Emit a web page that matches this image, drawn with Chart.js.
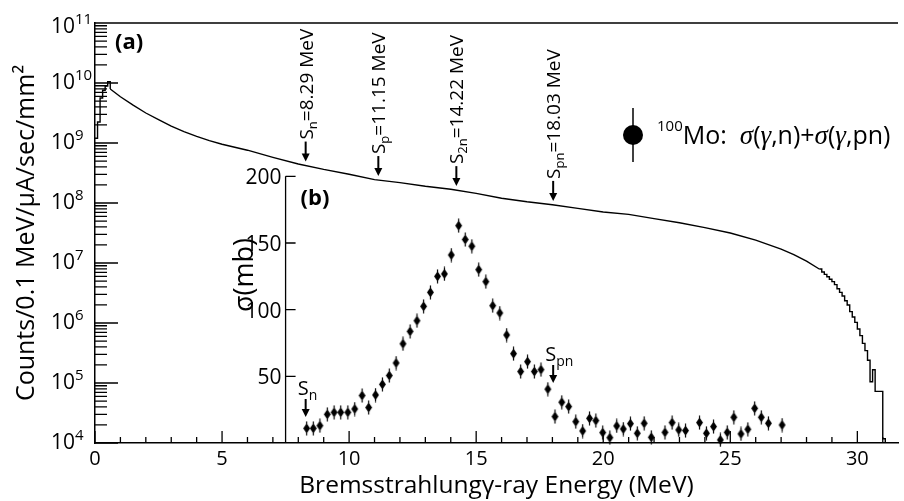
<!DOCTYPE html>
<html>
<head>
<meta charset="utf-8">
<script src="https://cdn.jsdelivr.net/npm/chart.js@4.4.0/dist/chart.umd.min.js"></script>
<style>
  html, body { margin: 0; padding: 0; background: #fff; }
  #wrap { width: 904px; height: 501px; }
</style>
</head>
<body>
<div id="wrap"><canvas id="graf" width="904" height="501"></canvas></div>
<script>
// (a) bremsstrahlung spectrum, log10 of counts/0.1 MeV/uA/sec/mm2
// rising edge, 0.1 MeV bins (low edges)
const headE   = [0.0, 0.1, 0.2, 0.3, 0.4, 0.5, 0.6];
const headLog = [9.08, 9.35, 9.75, 9.88, 9.95, 10.02, 9.90];

// smooth middle part
const fluxE = [0.6, 1.0, 1.5, 2.0, 2.5, 3.0, 3.5, 4.0, 4.5, 5.0, 6.0, 7.0, 8.0, 9.0, 10.0,
  11.0, 12.0, 13.0, 14.0, 15.0, 16.0, 17.0, 18.0, 19.0, 20.0, 21.0, 22.0, 23.0, 24.0,
  25.0, 26.0, 27.0, 27.5, 28.0, 28.5];
const fluxLog = [9.90, 9.77, 9.63, 9.50, 9.39, 9.28, 9.19, 9.11, 9.04, 8.98, 8.88, 8.76, 8.65, 8.56, 8.48,
  8.39, 8.34, 8.28, 8.23, 8.16, 8.08, 8.02, 7.97, 7.91, 7.85, 7.81, 7.74, 7.67, 7.59,
  7.50, 7.38, 7.23, 7.14, 7.03, 6.90];

// end point tail, 0.1 MeV bins (low edges), last entry closes the histogram
const tailE = [28.5, 28.6, 28.7, 28.8, 28.9, 29.0, 29.1, 29.2, 29.3, 29.4, 29.5, 29.6, 29.7, 29.8,
  29.9, 30.0, 30.1, 30.2, 30.3, 30.4, 30.5, 30.6, 30.7, 30.8, 30.9, 31.0, 31.1];
const tailLog = [6.90, 6.85, 6.81, 6.77, 6.73, 6.69, 6.64, 6.57, 6.51, 6.45, 6.37, 6.30, 6.19, 6.10,
  6.01, 5.90, 5.79, 5.66, 5.54, 5.38, 5.02, 5.22, 4.86, 4.86, 4.86, 4.07, 3.00];

// (b) 100Mo: sigma(g,n)+sigma(g,pn) in mb
const sigmaE = [8.33, 8.59, 8.85, 9.14, 9.41, 9.67, 9.95, 10.22, 10.51, 10.77, 11.04, 11.31, 11.58,
  11.85, 12.12, 12.40, 12.67, 12.93, 13.20, 13.48, 13.75, 14.02, 14.31, 14.57, 14.83, 15.10,
  15.38, 15.65, 15.93, 16.20, 16.47, 16.75, 17.02, 17.29, 17.55, 17.82, 18.10, 18.37, 18.64,
  18.92, 19.19, 19.46, 19.71, 19.98, 20.26, 20.53, 20.79, 21.07, 21.34, 21.61, 21.89, 22.43,
  22.71, 22.97, 23.24, 23.79, 24.06, 24.34, 24.61, 24.88, 25.14, 25.42, 25.69, 25.96, 26.22,
  26.50, 27.04];
const sigmaMb = [11, 11, 13, 21.5, 23, 23, 23, 25.5, 35.6, 26.6, 36, 44, 50.6,
  60, 74.4, 83.7, 91.7, 102.5, 113, 125, 126.8, 141, 163, 152.6, 147.6, 130,
  121, 103, 97.5, 81, 67, 53.6, 61, 53.6, 55, 40.4, 19.8, 30.6, 27.3,
  16, 9, 18.5, 16.8, 7.8, 4, 12.8, 10.5, 14.5, 7.3, 14.8, 4.3, 8,
  15.3, 9.8, 9.3, 15.3, 7.3, 12.3, 2.3, 8, 19.3, 6.8, 10.3, 26, 19.3,
  14.8, 13.5];

// ticks
const xTicks = [0, 5, 10, 15, 20, 25, 30];
const yDecades = [4, 5, 6, 7, 8, 9, 10, 11];
const insetTicks = [50, 100, 150, 200];
const insetLeftE = 7.5;

// separation energies
const thresholds = [
  { sub: "n",  e: 8.29 },
  { sub: "p",  e: 11.15 },
  { sub: "2n", e: 14.22 },
  { sub: "pn", e: 18.03 }
];
const insetMarks = [
  { sub: "n",  e: 8.29,  tipMb: 19.5 },
  { sub: "pn", e: 18.03, tipMb: 45 }
];

const FONT = "'Open Sans', sans-serif";

function toPoints(xs, logs) {
  return xs.map((e, i) => ({ x: e, y: Math.pow(10, logs[i]) }));
}

function fluxAt(e) {
  for (let i = 1; i < fluxE.length; i++) {
    if (e <= fluxE[i]) {
      const f = (e - fluxE[i - 1]) / (fluxE[i] - fluxE[i - 1]);
      return Math.pow(10, fluxLog[i - 1] + f * (fluxLog[i] - fluxLog[i - 1]));
    }
  }
  return Math.pow(10, fluxLog[fluxLog.length - 1]);
}

// diamond marker with short error bar
function diamondMarker() {
  const c = document.createElement("canvas");
  c.width = 9; c.height = 15;
  const g = c.getContext("2d");
  g.strokeStyle = "#000"; g.fillStyle = "#000"; g.lineWidth = 1.2;
  g.beginPath(); g.moveTo(4.5, 0.5); g.lineTo(4.5, 14.5); g.stroke();
  g.beginPath();
  g.moveTo(4.5, 2.5); g.lineTo(8, 7.5); g.lineTo(4.5, 12.5); g.lineTo(1, 7.5);
  g.closePath(); g.fill();
  return c;
}

function arrowDown(ctx, px, top, tip) {
  ctx.beginPath();
  ctx.lineWidth = 2;
  ctx.moveTo(px, top); ctx.lineTo(px, tip - 6);
  ctx.stroke();
  ctx.beginPath();
  ctx.moveTo(px - 4, tip - 8); ctx.lineTo(px + 4, tip - 8); ctx.lineTo(px, tip);
  ctx.closePath(); ctx.fill();
}

const decorations = {
  id: "decorations",
  afterDraw(chart) {
    const { ctx, chartArea: a, scales: { x, y, y2 } } = chart;
    ctx.save();
    ctx.strokeStyle = "#000";
    ctx.fillStyle = "#000";
    ctx.lineWidth = 1.3;

    // top frame and inward ticks
    ctx.beginPath();
    ctx.moveTo(a.left, a.top); ctx.lineTo(a.right, a.top);
    for (let e = 0; e <= x.max; e++) {
      const px = x.getPixelForValue(e);
      ctx.moveTo(px, a.bottom);
      ctx.lineTo(px, a.bottom - (e % 5 === 0 ? 12 : 6));
    }
    yDecades.forEach(d => {
      for (let k = 1; k < 10; k++) {
        const v = k * Math.pow(10, d);
        if (v > y.max) break;
        const py = y.getPixelForValue(v);
        ctx.moveTo(a.left, py);
        ctx.lineTo(a.left + (k === 1 ? 23 : 12), py);
      }
    });
    ctx.stroke();

    // 10^n labels
    ctx.textAlign = "left";
    ctx.textBaseline = "middle";
    yDecades.forEach(d => {
      const py = y.getPixelForValue(Math.pow(10, d)) + (d === 11 ? 4 : 0);
      ctx.font = "21px " + FONT;
      ctx.fillText("10", 51, py);
      const w = ctx.measureText("10").width;
      ctx.font = "15px " + FONT;
      ctx.fillText(String(d), 51 + w, py - 7);
    });

    // inset axis (b)
    const ix = x.getPixelForValue(insetLeftE);
    ctx.lineWidth = 1.3;
    ctx.beginPath();
    ctx.moveTo(ix, y2.getPixelForValue(0));
    ctx.lineTo(ix, y2.getPixelForValue(insetTicks[insetTicks.length - 1]));
    insetTicks.forEach(v => {
      const py = y2.getPixelForValue(v);
      ctx.moveTo(ix, py); ctx.lineTo(ix + 10, py);
    });
    ctx.stroke();
    ctx.font = "21px " + FONT;
    ctx.textAlign = "right";
    insetTicks.forEach(v => ctx.fillText(String(v), ix - 4, y2.getPixelForValue(v) + 2));

    ctx.save();
    ctx.translate(ix - 40, y2.getPixelForValue(126));
    ctx.rotate(-Math.PI / 2);
    ctx.textAlign = "center";
    ctx.font = "27px " + FONT;
    ctx.fillText("σ(mb)", 0, 0);
    ctx.restore();

    // panel labels
    ctx.textAlign = "left";
    ctx.font = "bold 22px " + FONT;
    ctx.fillText("(a)", a.left + 20, a.top + 20);
    ctx.fillText("(b)", ix + 15, y2.getPixelForValue(183));

    // separation energies on the spectrum
    thresholds.forEach(t => {
      const px = x.getPixelForValue(t.e);
      const tip = y.getPixelForValue(fluxAt(t.e)) - 4;
      arrowDown(ctx, px, tip - 20, tip);
      ctx.save();
      ctx.translate(px, tip - 22);
      ctx.rotate(-Math.PI / 2);
      ctx.textAlign = "left";
      ctx.textBaseline = "alphabetic";
      ctx.font = "19px " + FONT;
      ctx.fillText("S", 0, 7);
      let w = ctx.measureText("S").width;
      ctx.font = "13px " + FONT;
      ctx.fillText(t.sub, w, 11);
      w += ctx.measureText(t.sub).width;
      ctx.font = "19px " + FONT;
      ctx.fillText("=" + t.e.toFixed(2) + " MeV", w, 7);
      ctx.restore();
    });

    // S_n, S_pn marks in the inset
    insetMarks.forEach(m => {
      const px = x.getPixelForValue(m.e);
      const tip = y2.getPixelForValue(m.tipMb);
      arrowDown(ctx, px, tip - 18, tip);
      ctx.textAlign = "left";
      ctx.textBaseline = "alphabetic";
      ctx.font = "20px " + FONT;
      ctx.fillText("S", px - 8, tip - 22);
      const w = ctx.measureText("S").width;
      ctx.font = "14px " + FONT;
      ctx.fillText(m.sub, px - 8 + w, tip - 17);
    });

    // legend
    ctx.lineWidth = 1.5;
    ctx.beginPath(); ctx.moveTo(633, 108); ctx.lineTo(633, 162); ctx.stroke();
    ctx.beginPath(); ctx.arc(633, 135, 10, 0, 2 * Math.PI); ctx.fill();
    let tx = 657;
    ctx.textAlign = "left";
    ctx.textBaseline = "alphabetic";
    ctx.font = "15px " + FONT;
    ctx.fillText("100", tx, 131);
    tx += ctx.measureText("100").width;
    [["Mo:  ", false], ["σ", true], ["(", false], ["γ", true], [",n)+", false],
     ["σ", true], ["(", false], ["γ", true], [",pn)", false]].forEach(([t, it]) => {
      ctx.font = it ? "italic 27px 'Liberation Serif'" : "25px " + FONT;
      ctx.fillText(t, tx, 144);
      tx += ctx.measureText(t).width;
    });

    ctx.restore();
  }
};

const lineStyle = {
  showLine: true, pointRadius: 0, borderColor: "#000", borderWidth: 1.4,
  yAxisID: "y", tension: 0
};

new Chart(document.getElementById("graf"), {
  type: "scatter",
  data: {
    datasets: [
      Object.assign({ label: "head", data: toPoints(headE, headLog), stepped: "before" }, lineStyle),
      Object.assign({ label: "flux", data: toPoints(fluxE, fluxLog) }, lineStyle),
      Object.assign({ label: "tail", data: toPoints(tailE, tailLog), stepped: "before" }, lineStyle),
      {
        label: "100Mo",
        data: sigmaE.map((e, i) => ({ x: e, y: sigmaMb[i] })),
        yAxisID: "y2",
        pointStyle: diamondMarker(),
        pointRadius: 5,
        showLine: false,
        clip: false
      }
    ]
  },
  options: {
    responsive: false,
    animation: false,
    devicePixelRatio: 1,
    layout: { padding: { top: 23, right: 0, left: 0, bottom: 0 } },
    plugins: { legend: { display: false }, tooltip: { enabled: false } },
    scales: {
      x: {
        type: "linear", min: 0, max: 31.6,
        afterBuildTicks: s => { s.ticks = xTicks.map(v => ({ value: v })); },
        afterFit: s => { s.height = 58; },
        grid: { display: false, drawTicks: false },
        border: { display: true, color: "#000", width: 1.5 },
        ticks: { color: "#000", font: { family: FONT, size: 20 }, padding: 4, maxRotation: 0 },
        title: {
          display: true, text: "Bremsstrahlungγ-ray Energy (MeV)", color: "#000",
          font: { family: FONT, size: 24.5 }, padding: { top: 0, bottom: 0 }
        }
      },
      y: {
        type: "logarithmic", min: 1e4, max: 1e11, position: "left",
        afterBuildTicks: s => { s.ticks = yDecades.map(d => ({ value: Math.pow(10, d) })); },
        afterFit: s => { s.width = 95; },
        grid: { display: false, drawTicks: false },
        border: { display: true, color: "#000", width: 1.5 },
        ticks: { display: false },
        title: {
          display: true, text: "Counts/0.1 MeV/μA/sec/mm²", color: "#000",
          font: { family: FONT, size: 25 }, padding: { top: 12, bottom: 0 }
        }
      },
      // inset scale: 0..200 mb spans the lower part of the frame
      y2: { type: "linear", min: 0, max: 315, display: false }
    }
  },
  plugins: [decorations]
});
</script>
</body>
</html>
